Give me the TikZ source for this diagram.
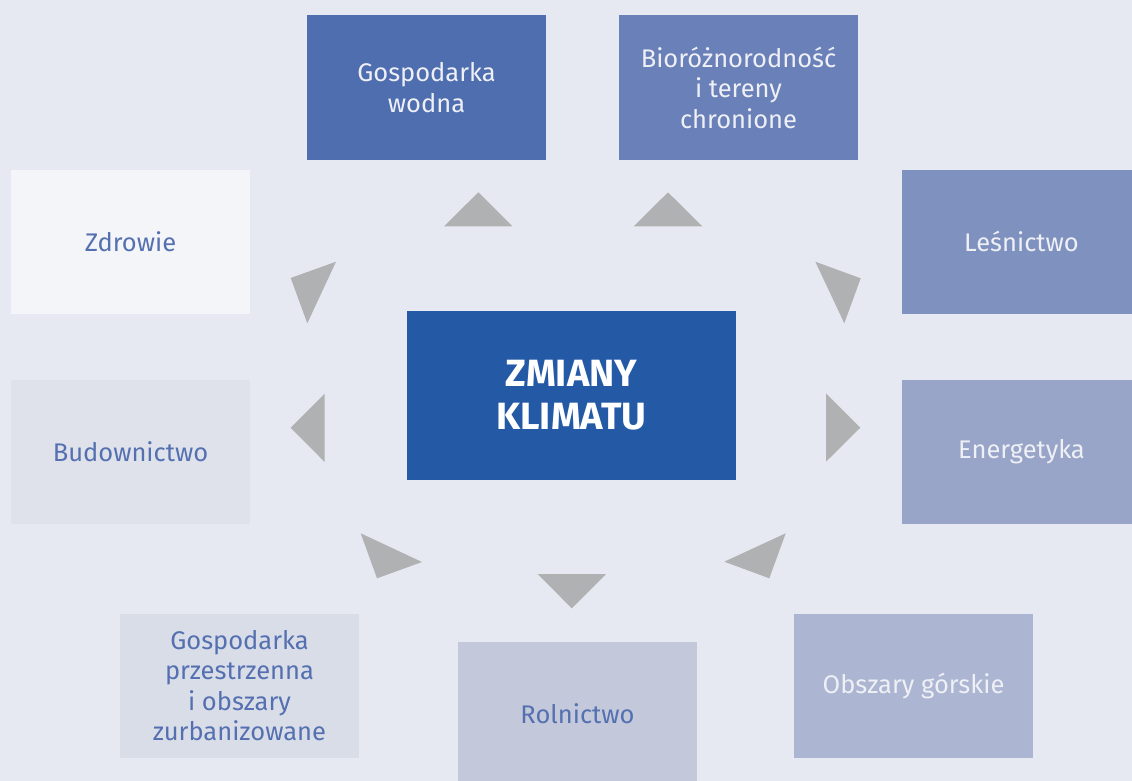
\documentclass[tikz,border=0pt]{standalone}
\usepackage{fontspec}
\setmainfont{Fira Sans}
\definecolor{bgc}{HTML}{E6E9F1}
\definecolor{cgw}{HTML}{4F6EAF}
\definecolor{cbio}{HTML}{6A80B8}
\definecolor{czd}{HTML}{F4F5F9}
\definecolor{cles}{HTML}{7F91BE}
\definecolor{cbud}{HTML}{DFE2EB}
\definecolor{cen}{HTML}{98A5C8}
\definecolor{ccen}{HTML}{2459A6}
\definecolor{cgp}{HTML}{D9DDE8}
\definecolor{crol}{HTML}{C3C8DB}
\definecolor{cog}{HTML}{ACB6D2}
\definecolor{trigray}{HTML}{B0B1B3}
\definecolor{txtblue}{HTML}{5470B0}
\definecolor{txtwhite}{HTML}{EEF0F6}
\begin{document}
\begin{tikzpicture}[x=1pt,y=-1pt,
  box/.style={rectangle, minimum width=239pt, minimum height=144pt, inner sep=0pt, align=center, font=\fontsize{25.5}{30.5}\selectfont},
  lightbox/.style={box, text=txtblue},
  darkbox/.style={box, text=txtwhite},
  tri/.style={fill=trigray}]
\fill[bgc] (0,0) rectangle (1132,781);
\useasboundingbox (0,0) rectangle (1132,781);
\node[darkbox, fill=cgw] (gw) at (426.5,87.5) {Gospodarka\\wodna};
\node[darkbox, fill=cbio] (bio) at (738.5,87.5) {Bioróżnorodność\\i tereny\\chronione};
\node[lightbox, fill=czd] (zd) at (130.5,241.5) {Zdrowie};
\node[darkbox, fill=cles] (les) at (1021.5,241.5) {Leśnictwo};
\node[lightbox, fill=cbud] (bud) at (130.5,451.5) {Budownictwo};
\node[darkbox, fill=cen] (en) at (1021.5,451.5) {Energetyka};
\node[rectangle, fill=ccen, minimum width=329pt, minimum height=169pt, inner sep=0pt, align=center, text=white, font=\fontsize{38}{43}\selectfont\bfseries] (cc) at (571.5,395.5) {ZMIANY\\KLIMATU};
\node[lightbox, fill=cgp] (gp) at (239.5,685.5) {Gospodarka\\przestrzenna\\i obszary\\zurbanizowane};
\node[lightbox, fill=crol] (rol) at (577.5,714) {Rolnictwo};
\node[darkbox, fill=cog] (og) at (913.5,685.5) {Obszary górskie};
\fill[tri] (444,226.3) -- (478.3,192.3) -- (512.3,226.3) -- cycle;
\fill[tri] (633.7,226.3) -- (668,192.3) -- (702.3,226.3) -- cycle;
\fill[tri] (815.3,261.7) -- (860.7,278.3) -- (844.3,323.3) -- cycle;
\fill[tri] (826,393.3) -- (860.3,427.7) -- (826,461.7) -- cycle;
\fill[tri] (724.3,561.7) -- (785.7,533.3) -- (769.3,578.3) -- cycle;
\fill[tri] (537.7,574) -- (606,574) -- (571.7,608.3) -- cycle;
\fill[tri] (360.7,533.3) -- (422,562) -- (377,578.3) -- cycle;
\fill[tri] (290.7,427.7) -- (324.7,393.7) -- (324.7,462) -- cycle;
\fill[tri] (290.7,278) -- (336,261.7) -- (307.3,323.3) -- cycle;
\end{tikzpicture}
\end{document}
